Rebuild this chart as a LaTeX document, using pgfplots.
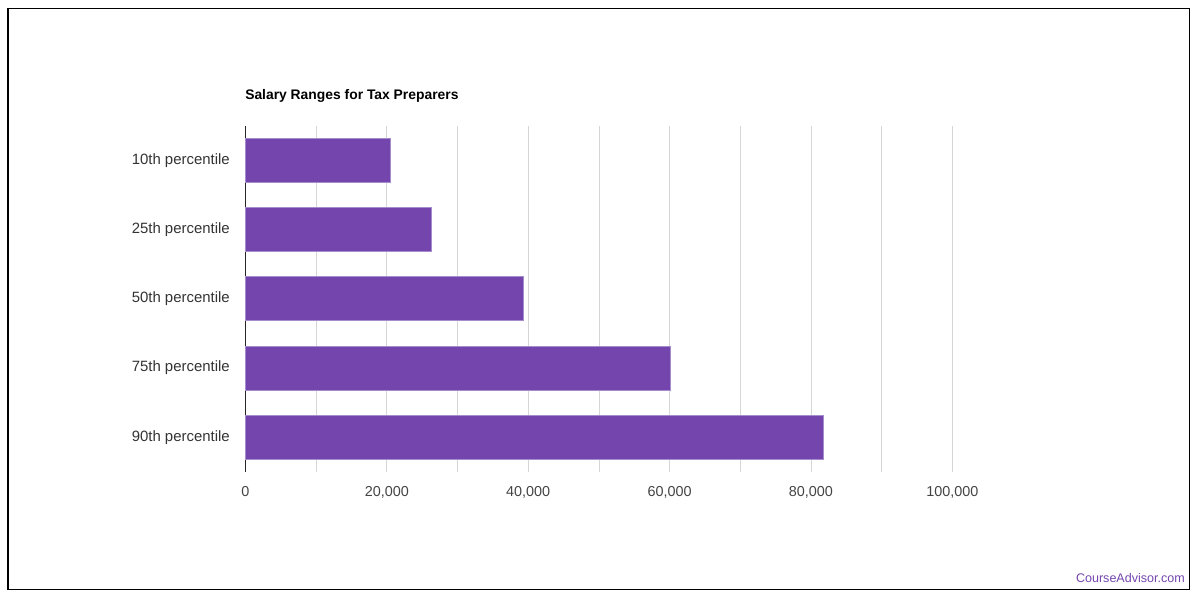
\documentclass[border=0pt]{standalone}
\usepackage{pgfplots}
\pgfplotsset{compat=1.18}
\usepackage{fontspec}
\setmainfont{Liberation Sans}
\definecolor{barpurple}{RGB}{116,70,173}
\definecolor{baredge}{RGB}{165,140,205}
\definecolor{gridgray}{RGB}{214,214,214}
\definecolor{labelgray}{RGB}{51,51,51}
\definecolor{tickgray}{RGB}{68,68,68}
\begin{document}
\begin{tikzpicture}[x=0.75pt,y=-0.75pt]
\path[use as bounding box] (0,0) rectangle (1200,600);
\draw[line width=1.1pt, black] (8,8.5) rectangle (1189.5,589.5);
\node[anchor=base west, inner sep=0pt, font=\fontsize{10.4pt}{12pt}\selectfont\bfseries, text=black] at (245,99) {Salary Ranges for Tax Preparers};
\node[anchor=base east, inner sep=0pt, font=\fontsize{9.4pt}{11pt}\selectfont, text=barpurple] at (1185,582) {CourseAdvisor.com};
\coordinate (axorig) at (245.5,471.8);
\begin{axis}[
  at={(axorig)}, anchor=south west,
  scale only axis,
  width=530.1pt, height=259.5pt,
  xmin=0, xmax=100000,
  ymin=-0.5, ymax=4.5,
  y dir=reverse,
  xtick={0,20000,40000,60000,80000,100000},
  xticklabels={0,{20,000},{40,000},{60,000},{80,000},{100,000}},
  minor xtick={10000,30000,50000,70000,90000},
  ytick={0,1,2,3,4},
  yticklabels={10th percentile,25th percentile,50th percentile,75th percentile,90th percentile},
  xmajorgrids, xminorgrids,
  major grid style={gridgray, line width=0.6pt},
  minor grid style={gridgray, line width=0.6pt},
  major tick length=0pt, minor tick length=0pt,
  scaled x ticks=false,
  axis x line*=bottom, axis y line*=left,
  x axis line style={draw=none},
  y axis line style={-, draw=black!85, line width=0.8pt},
  xticklabel style={font=\fontsize{10.8pt}{12pt}\selectfont, text=tickgray, inner sep=0pt, anchor=north, yshift=-10.5pt},
  yticklabel style={font=\fontsize{11.2pt}{13pt}\selectfont, text=labelgray, inner sep=0pt, anchor=east, xshift=-11.6pt},
  clip=false,
]
\addplot[xbar, bar width=33pt, fill=barpurple, draw=baredge, line width=0.6pt]
  coordinates {(20490,0) (26290,1) (39300,2) (60050,3) (81750,4)};
\end{axis}
\end{tikzpicture}
\end{document}
